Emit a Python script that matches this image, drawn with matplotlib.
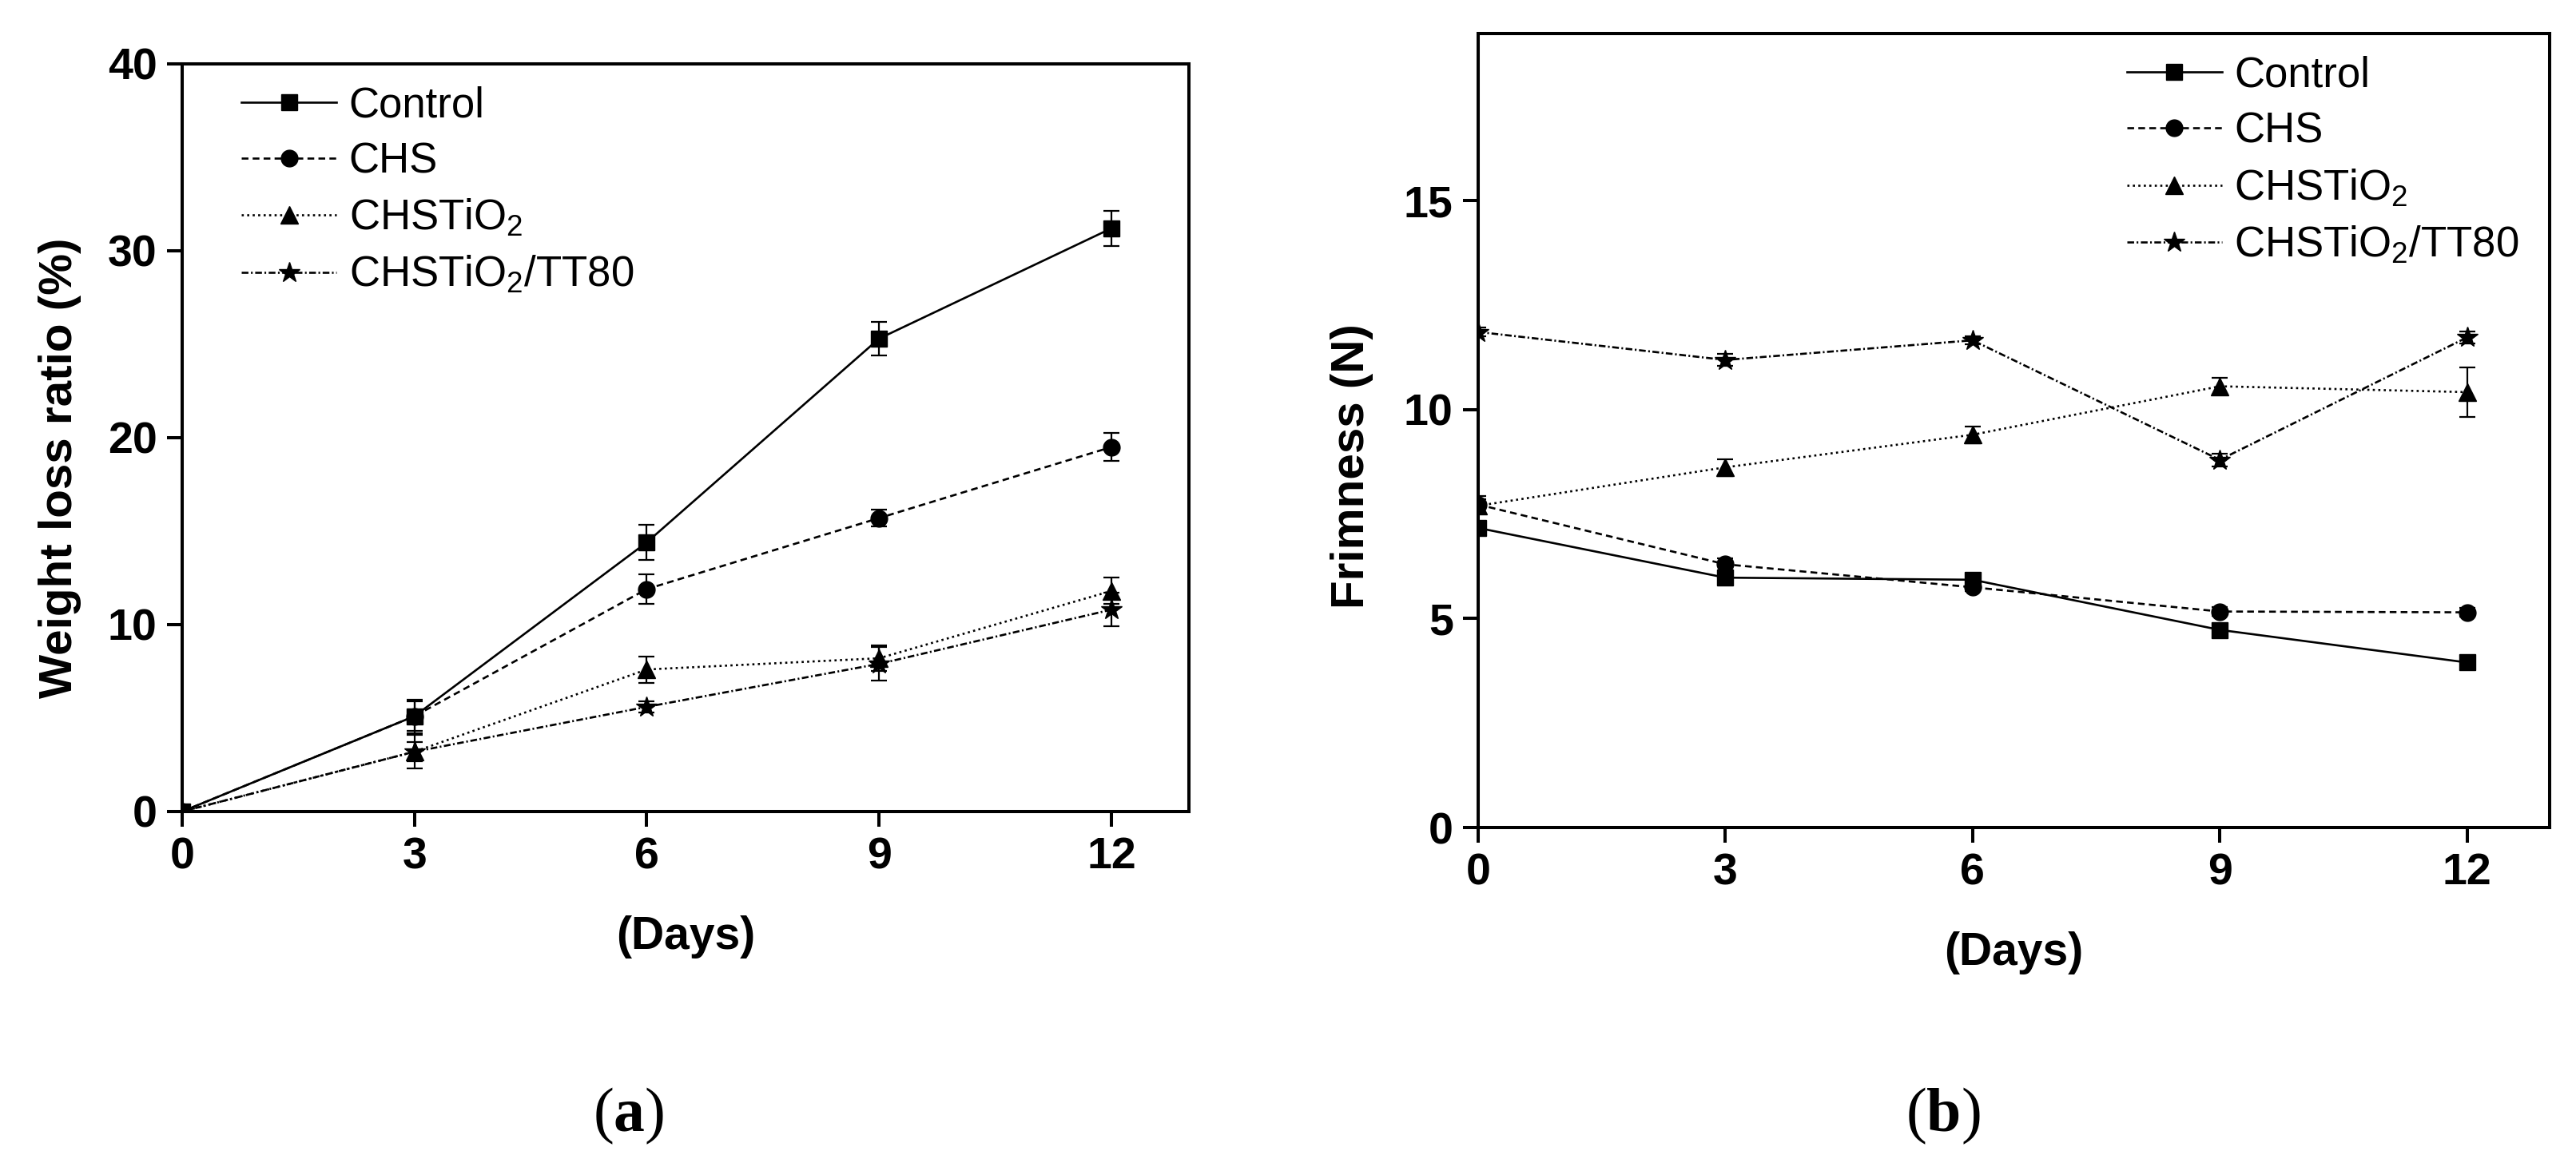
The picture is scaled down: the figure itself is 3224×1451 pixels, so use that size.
import matplotlib
matplotlib.use("Agg")
import matplotlib.pyplot as plt

plt.rcParams["font.family"] = ["Liberation Sans", "DejaVu Sans"]
plt.rcParams["mathtext.fontset"] = "custom"
plt.rcParams["mathtext.rm"] = "Liberation Sans"
plt.rcParams["mathtext.bf"] = "Liberation Serif:bold"
plt.rcParams["mathtext.default"] = "rm"

# Datos
dias = [0, 3, 6, 9, 12]
series = ["Control", "CHS", "CHSTiO$_{2}$", "CHSTiO$_{2}$/TT80"]

# (a) Weight loss ratio (%)
perdidaControl = [0, 5.1, 14.4, 25.3, 31.2]
perdidaCHS = [0, 5.1, 11.9, 15.7, 19.5]
perdidaTiO2 = [0, 3.2, 7.6, 8.2, 11.8]
perdidaTT80 = [0, 3.2, 5.6, 7.9, 10.8]
errPerdidaControl = [0, 0.9, 0.95, 0.9, 0.95]
errPerdidaCHS = [0, 0.8, 0.8, 0.45, 0.75]
errPerdidaTiO2 = [0, 0.5, 0.7, 0.7, 0.7]
errPerdidaTT80 = [0, 0.9, 0.3, 0.9, 0.9]

# (b) Frimness (N)
firmezaControl = [7.17, 5.98, 5.93, 4.73, 3.95]
firmezaCHS = [7.73, 6.3, 5.75, 5.17, 5.15]
firmezaTiO2 = [7.7, 8.62, 9.4, 10.56, 10.42]
firmezaTT80 = [11.86, 11.19, 11.66, 8.8, 11.73]
errFirmezaControl = [0.15, 0.1, 0.1, 0.1, 0.1]
errFirmezaCHS = [0.2, 0.15, 0.1, 0.1, 0.1]
errFirmezaTiO2 = [0.15, 0.2, 0.2, 0.2, 0.6]
errFirmezaTT80 = [0.1, 0.15, 0.1, 0.15, 0.15]

marcadores = ["s", "o", "^", "*"]
tamMarcador = [14, 15, 16, 19]
estilos = ["-", (0, (3.2, 2.0)), (0, (1.0, 1.6)), (0, (3.2, 1.2, 0.8, 1.2))]

fig = plt.figure(figsize=(32.24, 14.51), dpi=100)
axA = fig.add_axes([0.0707, 0.2998, 0.3908, 0.6451])
axB = fig.add_axes([0.5738, 0.2860, 0.4159, 0.6850])


def graficar(ax, valores, errores):
    for i in range(4):
        ax.errorbar(dias, valores[i], yerr=errores[i], color="black",
                    linestyle=estilos[i], linewidth=1.9, marker=marcadores[i],
                    markersize=tamMarcador[i], elinewidth=1.6, capsize=7,
                    capthick=1.6, label=series[i])


graficar(axA, [perdidaControl, perdidaCHS, perdidaTiO2, perdidaTT80],
         [errPerdidaControl, errPerdidaCHS, errPerdidaTiO2, errPerdidaTT80])
graficar(axB, [firmezaControl, firmezaCHS, firmezaTiO2, firmezaTT80],
         [errFirmezaControl, errFirmezaCHS, errFirmezaTiO2, errFirmezaTT80])

axA.set_xlim(0, 13)
axA.set_ylim(0, 40)
axA.set_yticks([0, 10, 20, 30, 40])
axB.set_xlim(0, 13)
axB.set_ylim(0, 19)
axB.set_yticks([0, 5, 10, 15])

for ax in (axA, axB):
    ax.set_xticks(dias)
    for s in ax.spines.values():
        s.set_linewidth(2.9)
    ax.tick_params(direction="out", length=13.5, width=2.9, labelsize=40, pad=9)
    for lab in ax.get_xticklabels() + ax.get_yticklabels():
        lab.set_fontweight("bold")
    ax.set_xlabel("(Days)", fontsize=41, fontweight="bold", labelpad=34)

axA.set_ylabel("Weight loss ratio (%)", fontsize=42, fontweight="bold")
axB.set_ylabel("Frimness (N)", fontsize=42, fontweight="bold")
axA.yaxis.set_label_coords(-0.100, 0.46)
axB.yaxis.set_label_coords(-0.098, 0.455)

# Leyenda sin barras de error en los simbolos
for ax, xLeyenda, yLeyenda in ((axA, 0.059, 0.971), (axB, 0.6055, 0.972)):
    handles, labels = ax.get_legend_handles_labels()
    handles = [h[0] for h in handles]
    ax.legend(handles, labels, loc="upper left", bbox_to_anchor=(xLeyenda, yLeyenda),
              frameon=False, prop={"size": 38}, handlelength=2.25,
              handletextpad=0.3, labelspacing=0.38, borderpad=0, borderaxespad=0)

fig.text(787 / 3224, 1 - 1397 / 1451, r"($\mathbf{a}$)", family="Liberation Serif",
         fontsize=56, ha="center", va="center")
fig.text(2432 / 3224, 1 - 1397 / 1451, r"($\mathbf{b}$)", family="Liberation Serif",
         fontsize=56, ha="center", va="center")

fig.savefig("out.png", dpi=100)
